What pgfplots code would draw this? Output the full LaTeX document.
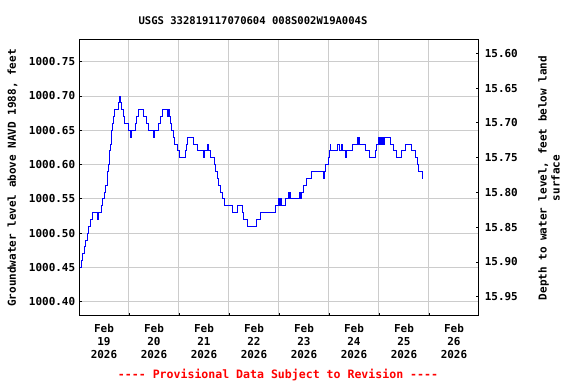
\documentclass[border=0pt]{standalone}
\usepackage{pgfplots}
\pgfplotsset{compat=1.18}
\usepackage{fontspec}
\setmainfont{DejaVu Sans Mono}
\definecolor{gridgray}{RGB}{204,204,204}
\definecolor{lineblue}{RGB}{0,0,255}
\definecolor{provred}{RGB}{255,0,0}
\pgfplotstableread{
d v
0.014 1000.45
0.046 1000.46
0.074 1000.47
0.114 1000.48
0.134 1000.49
0.160 1000.50
0.180 1000.51
0.234 1000.52
0.274 1000.53
0.366 1000.52
0.394 1000.53
0.446 1000.54
0.474 1000.55
0.514 1000.56
0.534 1000.57
0.560 1000.58
0.574 1000.59
0.586 1000.60
0.600 1000.61
0.614 1000.62
0.626 1000.63
0.640 1000.64
0.654 1000.65
0.666 1000.66
0.694 1000.67
0.714 1000.68
0.780 1000.69
0.806 1000.70
0.834 1000.69
0.854 1000.68
0.880 1000.67
0.914 1000.66
0.994 1000.65
1.020 1000.64
1.040 1000.65
1.126 1000.66
1.154 1000.67
1.194 1000.68
1.280 1000.67
1.346 1000.66
1.394 1000.65
1.494 1000.64
1.514 1000.65
1.594 1000.66
1.626 1000.67
1.666 1000.68
1.766 1000.67
1.780 1000.68
1.800 1000.67
1.826 1000.66
1.846 1000.65
1.880 1000.64
1.914 1000.63
1.966 1000.62
2.014 1000.61
2.126 1000.62
2.146 1000.63
2.160 1000.64
2.294 1000.63
2.360 1000.62
2.494 1000.61
2.506 1000.62
2.566 1000.63
2.594 1000.62
2.634 1000.61
2.700 1000.60
2.726 1000.59
2.766 1000.58
2.794 1000.57
2.834 1000.56
2.860 1000.55
2.900 1000.54
3.066 1000.53
3.160 1000.54
3.260 1000.53
3.294 1000.52
3.366 1000.51
3.554 1000.52
3.634 1000.53
3.926 1000.54
3.980 1000.55
4.000 1000.54
4.020 1000.55
4.046 1000.54
4.126 1000.55
4.180 1000.56
4.200 1000.55
4.214 1000.56
4.234 1000.55
4.414 1000.56
4.430 1000.55
4.446 1000.56
4.480 1000.57
4.546 1000.58
4.646 1000.59
4.880 1000.58
4.914 1000.59
4.926 1000.60
4.980 1000.61
5.014 1000.62
5.026 1000.63
5.034 1000.62
5.166 1000.63
5.214 1000.62
5.246 1000.63
5.260 1000.62
5.334 1000.61
5.346 1000.62
5.474 1000.63
5.560 1000.64
5.575 1000.63
5.590 1000.64
5.600 1000.63
5.726 1000.62
5.814 1000.61
5.926 1000.62
5.954 1000.63
5.980 1000.64
6.000 1000.63
6.020 1000.64
6.040 1000.63
6.060 1000.64
6.080 1000.63
6.100 1000.64
6.226 1000.63
6.280 1000.62
6.346 1000.61
6.446 1000.62
6.526 1000.63
6.646 1000.62
6.720 1000.61
6.770 1000.60
6.794 1000.59
6.860 1000.58
6.874 1000.58
}\levels
\begin{document}
\fontsize{11}{13}\selectfont\bfseries
\begin{tikzpicture}
\path[use as bounding box] (0bp,0bp) rectangle (576bp,384bp);
\begin{axis}[
  at={(79bp,68.3bp)}, anchor=south west,
  width=400bp, height=276.4bp, scale only axis,
  xmin=0, xmax=8,
  ymin=1000.3796, ymax=1000.7827,
  axis line style={black, line width=1bp},
  xtick={1,2,3,4,5,6,7}, xticklabels={},
  extra x ticks={0.5,1.5,2.5,3.5,4.5,5.5,6.5,7.5},
  extra x tick labels={Feb\\19\\2026,Feb\\20\\2026,Feb\\21\\2026,Feb\\22\\2026,Feb\\23\\2026,Feb\\24\\2026,Feb\\25\\2026,Feb\\26\\2026},
  extra x tick style={grid=none, major tick length=0pt, xticklabel style={align=center, yshift=-5bp}},
  ytick={1000.40,1000.45,1000.50,1000.55,1000.60,1000.65,1000.70,1000.75},
  yticklabel style={/pgf/number format/.cd, fixed, fixed zerofill, precision=2, 1000 sep={}, assume math mode=true},
  xmajorgrids, ymajorgrids,
  major grid style={gridgray, line width=1bp},
  tick align=inside, major tick length=3bp,
  tick style={black, line width=0.8bp},
  xtick pos=bottom, ytick pos=left,
  clip=true,
]
\addplot[const plot, lineblue, line width=0.9bp] table[x=d, y=v] {\levels};
\end{axis}
\begin{axis}[
  at={(79bp,68.3bp)}, anchor=south west,
  width=400bp, height=276.4bp, scale only axis,
  xmin=0, xmax=8,
  ymin=15.5799, ymax=15.9773, y dir=reverse,
  axis y line*=right, axis x line=none,
  axis line style={black, line width=1bp},
  ytick={15.60,15.65,15.70,15.75,15.80,15.85,15.90,15.95},
  yticklabel style={xshift=2bp, /pgf/number format/.cd, fixed, fixed zerofill, precision=2, assume math mode=true},
  tick align=inside, major tick length=3bp,
  tick style={black, line width=0.8bp},
]
\addplot[draw=none] coordinates {(0,15.7)};
\end{axis}
\node[anchor=center, font=\fontsize{10.6}{13}\selectfont\bfseries] at (253bp,363.5bp) {USGS 332819117070604 008S002W19A004S};
\node[anchor=center, rotate=90] at (12.5bp,206bp) {Groundwater level above NAVD 1988, feet};
\node[anchor=center, rotate=90, align=center] at (549bp,206bp) {Depth to water level, feet below land\\surface};
\node[anchor=center, text=provred, font=\fontsize{11.6}{13}\selectfont\bfseries] at (278bp,9bp) {-{}-{}-{}- Provisional Data Subject to Revision -{}-{}-{}-};
\end{tikzpicture}
\end{document}
